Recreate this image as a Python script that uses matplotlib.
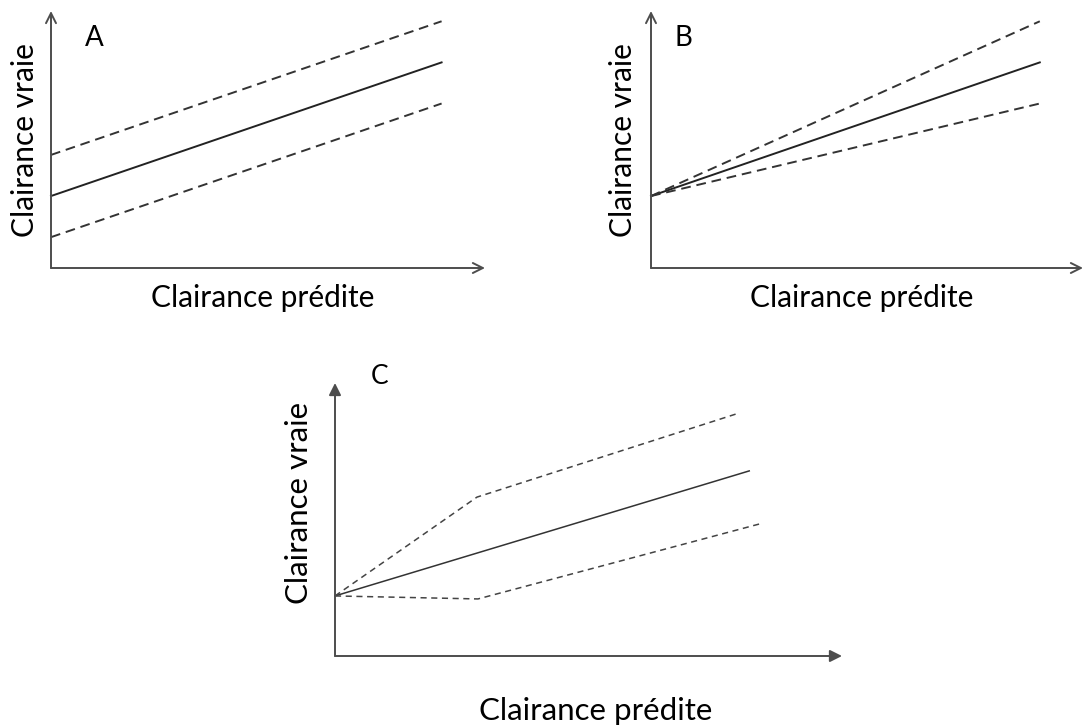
import matplotlib
matplotlib.use('Agg')
import matplotlib.pyplot as plt

plt.rcParams['font.family'] = ['Lato', 'DejaVu Sans']

# Panel A: parallel lines (constant error)
a_x = [0, 9]
a_mid = [2.8, 8.0]
a_up = [4.4, 9.6]
a_low = [1.2, 6.4]

# Panel B: lines fanning out from one point (proportional error)
b_x = [0, 9]
b_mid = [2.8, 8.0]
b_up = [2.8, 9.6]
b_low = [2.8, 6.4]

# Panel C: broken dashed limits
c_mid_x = [0, 8.17]
c_mid = [2.2, 6.78]
c_up_x = [0, 2.8, 7.97]
c_up = [2.2, 5.82, 8.9]
c_low_x = [0, 2.82, 8.38]
c_low = [2.2, 2.09, 4.84]

panel_letters = ['A', 'B', 'C']
ylabel = 'Clairance vraie'
xlabel = 'Clairance prédite'

W, H = 1084, 727
fig = plt.figure(figsize=(W / 100, H / 100), dpi=100)


def box(x0, y0, x1, y1):
    # pixel box (left, bottom, right, top) -> figure fractions
    return [x0 / W, 1 - y0 / H, (x1 - x0) / W, (y0 - y1) / H]


def setup(ax, head):
    ax.set_xlim(0, 10)
    ax.set_ylim(0, 10)
    ax.axis('off')
    props = dict(arrowstyle=head, color='#4d4d4d', lw=1.4,
                 shrinkA=0, shrinkB=0, mutation_scale=18)
    ax.annotate('', xy=(10, 0), xytext=(0, 0), arrowprops=props, annotation_clip=False)
    ax.annotate('', xy=(0, 10), xytext=(0, 0), arrowprops=props, annotation_clip=False)


# Panel A
ax_a = fig.add_axes(box(51, 268, 485, 11))
setup(ax_a, '->')
ax_a.plot(a_x, a_mid, color='#222222', lw=1.4, clip_on=False)
ax_a.plot(a_x, a_up, color='#333333', lw=1.4, ls=(0, (5, 3)), clip_on=False)
ax_a.plot(a_x, a_low, color='#333333', lw=1.4, ls=(0, (5, 3)), clip_on=False)

# Panel B
ax_b = fig.add_axes(box(651, 268, 1083, 11))
setup(ax_b, '->')
ax_b.plot(b_x, b_mid, color='#222222', lw=1.4, clip_on=False)
ax_b.plot(b_x, b_up, color='#333333', lw=1.4, ls=(0, (5, 3)), clip_on=False)
ax_b.plot(b_x, b_low, color='#333333', lw=1.4, ls=(0, (5, 3)), clip_on=False)

# Panel C
ax_c = fig.add_axes(box(335, 656, 842, 383))
setup(ax_c, '-|>')
ax_c.plot(c_mid_x, c_mid, color='#333333', lw=1.1, clip_on=False)
ax_c.plot(c_up_x, c_up, color='#444444', lw=1.1, ls=(0, (4, 3)), clip_on=False)
ax_c.plot(c_low_x, c_low, color='#444444', lw=1.1, ls=(0, (4, 3)), clip_on=False)

# Texts
fs = 21.5
fig.text(94 / W, 1 - 38 / H, panel_letters[0], fontsize=20, ha='center', va='center')
fig.text(683 / W, 1 - 38 / H, panel_letters[1], fontsize=20, ha='center', va='center')
fig.text(380 / W, 1 - 376 / H, panel_letters[2], fontsize=19, ha='center', va='center')

fig.text(25 / W, 1 - 140 / H, ylabel, fontsize=fs, rotation=90, ha='center', va='center')
fig.text(623 / W, 1 - 140 / H, ylabel, fontsize=fs, rotation=90, ha='center', va='center')
fig.text(299 / W, 1 - 503 / H, ylabel, fontsize=fs + 1, rotation=90, ha='center', va='center')

fig.text(263 / W, 1 - 298 / H, xlabel, fontsize=fs, ha='center', va='center')
fig.text(862 / W, 1 - 298 / H, xlabel, fontsize=fs, ha='center', va='center')
fig.text(596 / W, 1 - 711 / H, xlabel, fontsize=fs + 1, ha='center', va='center')

fig.savefig('out.png', dpi=100, facecolor='white')
plt.close(fig)
